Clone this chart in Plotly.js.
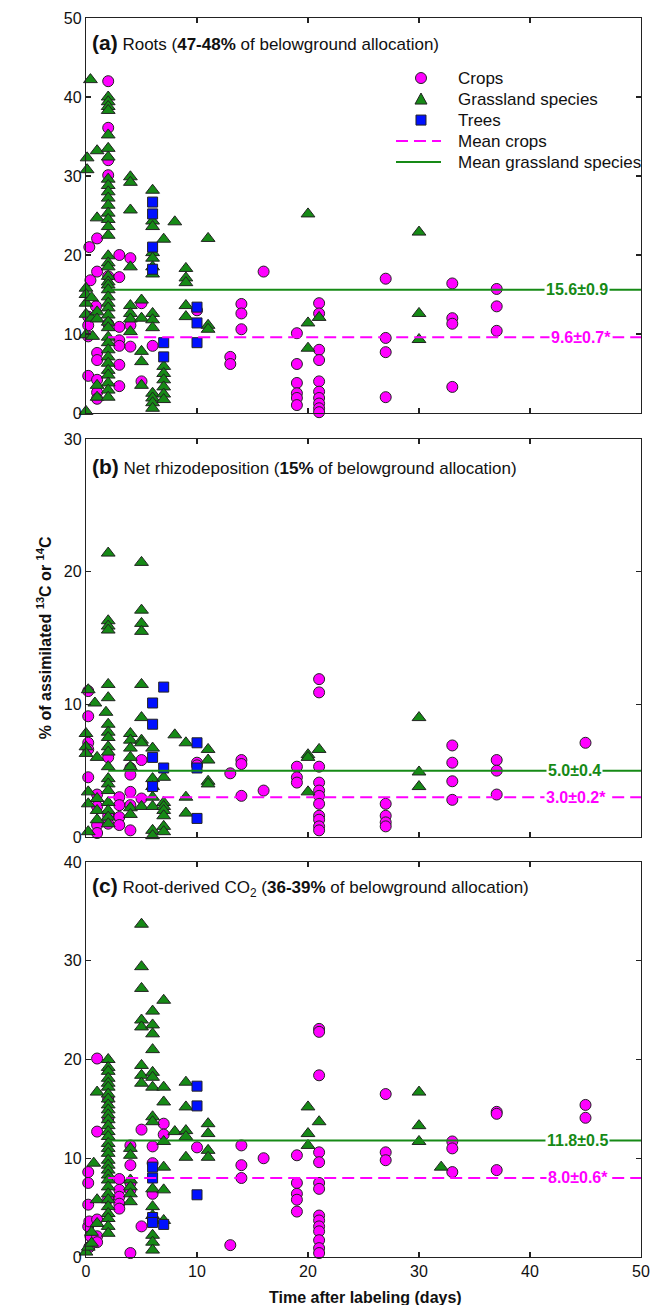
<!DOCTYPE html>
<html><head><meta charset="utf-8">
<script src="https://cdn.plot.ly/plotly-3.0.1.min.js"></script>
<style>html,body{margin:0;padding:0;background:#fff;} #chart{width:651px;height:1305px;}</style>
</head><body><div id="chart"></div>
<script>
// ---------- DATA (day, % of assimilated C) ----------
const xTicks = [0, 10, 20, 30, 40, 50];
const meanLineDays = [2, 50];

// Panel (a) Roots
const rootsCrops = [[0.3,21.0],[1,22.1],[0.4,16.8],[1,17.9],[0.9,13.5],[0.2,12.2],[0.2,11.1],[0.2,9.7],[1,7.6],[1,6.7],[0.2,4.7],[1,4.2],[1,2.6],[1,1.8],
 [2,42.0],[2,36.1],[2,32.0],[2,30.1],[2,17.3],[2,11.3],
 [3,20.0],[3,17.2],[3,10.9],[3,9.2],[3,8.5],[3,6.1],[3,3.4],
 [4,19.6],[4,11.1],[4,8.4],[5,13.9],[5,4.0],[6,8.5],[10,13.0],
 [13,7.1],[13,6.2],[14,13.8],[14,12.6],[14,10.6],[16,17.9],
 [19,10.1],[19,6.2],[19,3.8],[19,2.5],[19,1.9],[19,1.0],
 [21,13.9],[21,12.6],[21,8.0],[21,6.7],[21,4.0],[21,2.7],[21,1.9],[21,1.2],[21,0.6],[21,0.1],
 [27,17.0],[27,9.5],[27,7.7],[27,2.0],[33,16.4],[33,12.0],[33,11.3],[33,3.3],[37,15.7],[37,13.5],[37,10.4]];
const rootsGrass = [[0.4,42.2],[0.1,32.3],[0.1,30.8],[1,33.2],[1,24.7],
 [0,15.8],[0,15.0],[0,13.9],[0.5,14.6],[0,12.5],[0.5,12.0],[1,12.8],[1,11.9],[0,9.9],[0.6,9.7],[1,3.5],[1,2.0],[0,0.2],
 [2,40.0],[2,39.4],[2,38.8],[2,38.3],[2,35.2],[2,33.5],[2,32.4],[2,29.6],[2,28.8],[2,28.0],[2,27.2],[2,26.3],[2,25.3],[2,24.5],[2,23.6],[2,22.5],
 [2,19.9],[2,19.0],[2,18.5],[2,17.3],[2,16.6],[2,16.2],[2,15.6],[2,14.7],[2,13.9],[2,13.3],[2,12.4],[2,11.5],[2,10.8],[2,9.6],[2,8.9],[2,8.0],[2,7.1],[2,6.3],[2,5.4],[2,4.8],[2,3.8],[2,2.9],[2,2.0],
 [4,29.9],[4,29.2],[4,25.7],[4,18.5],[4,13.6],[4,12.6],[4,11.9],[4,10.3],
 [5,14.3],[5,12.0],[5,7.8],[5,6.5],[5,3.5],
 [6,28.2],[6,24.3],[6,23.6],[6,20.3],[6,19.6],[6,18.5],[6,17.6],[6,12.6],[6,11.8],[6,10.8],[6,2.5],[6,1.9],[6,1.3],[6,0.6],
 [7,22.0],[7,5.9],[7,5.0],[7,4.2],[7,3.3],[7,2.4],[7,1.7],[8,24.2],
 [9,18.3],[9,17.1],[9,16.5],[9,13.6],[9,12.2],[11,22.1],[11,11.1],[11,10.6],
 [20,25.2],[20,11.4],[20,8.2],[21,12.1],[30,22.9],[30,12.6],[30,9.3]];
const rootsTrees = [[6,26.7],[6,25.2],[6,21.0],[6,18.2],[7,8.9],[7,7.1],[10,13.4],[10,11.4],[10,8.9]];
const rootsMeans = [9.6, 15.6];          // crops, grassland
const rootsMeanLabels = ['9.6±0.7*', '15.6±0.9'];

// Panel (b) Net rhizodeposition
const rhizoCrops = [[0.2,11.0],[0.2,9.1],[0.2,7.1],[0.2,6.6],[0.2,4.5],[1,3.2],[1,2.3],[1,0.9],[1,0.3],[2,6.0],[2,1.6],[2,1.0],
 [3,3.0],[3,2.4],[3,1.5],[3,0.9],[4,5.2],[4,4.7],[4,3.4],[4,2.4],[4,0.5],[5,5.8],[5,2.9],
 [10,5.6],[10,5.4],[13,4.8],[14,5.8],[14,5.5],[14,3.1],[16,3.5],[19,5.3],[19,4.5],[19,4.1],
 [21,11.9],[21,10.9],[21,5.3],[21,4.1],[21,3.5],[21,3.1],[21,2.5],[21,1.6],[21,1.3],[21,0.8],[21,0.5],
 [27,2.5],[27,1.6],[27,1.1],[27,0.8],[33,6.9],[33,5.6],[33,4.2],[33,2.8],[37,5.8],[37,5.0],[37,3.2],[45,7.1]];
const rhizoGrass = [[0.2,11.1],[0.8,10.1],[0,7.8],[0,6.8],[0,6.3],[0.2,3.4],[0.2,2.5],[0.2,0.4],[1,2.9],[1,2.0],[1,1.3],[1,6.0],
 [2,21.4],[2,16.3],[2,15.9],[2,15.6],[2,11.5],[2,10.5],[1.8,9.4],[2,8.5],[2,7.9],[2,7.5],[2,6.8],[2,6.4],[2,5.3],[2,4.4],[2,4.0],[2,3.5],[2,2.6],[2,2.0],[2,1.5],[2,1.0],
 [4,7.8],[4,7.3],[4,6.7],[4,6.0],[4,5.3],[4,2.2],[4,1.7],
 [5,20.7],[5,17.1],[5,16.1],[5,15.5],[5,11.5],[5,9.0],[5,7.3],[5,7.1],[5,2.3],
 [6,6.7],[6,4.4],[6,3.8],[6,3.0],[6,2.3],[6,0.5],[6,0.1],
 [7,4.5],[7,2.6],[7,2.3],[7,2.0],[7,1.6],[7,0.8],[7,0.4],
 [8,7.7],[9,7.1],[9,3.0],[9,1.8],[11,6.6],[11,5.8],[11,4.2],[11,4.0],
 [20,6.2],[20,6.0],[20,3.4],[21,6.6],[30,9.0],[30,4.9],[30,3.8]];
const rhizoTrees = [[7,11.3],[6,10.1],[6,8.5],[6,6.0],[6,3.8],[7,5.2],[10,7.1],[10,5.2],[10,1.4]];
const rhizoMeans = [3.0, 5.0];
const rhizoMeanLabels = ['3.0±0.2*', '5.0±0.4'];

// Panel (c) Root-derived CO2
const co2Crops = [[0.2,8.6],[0.2,7.5],[0.2,5.3],[0.2,3.1],[0.3,3.6],[0.4,2.1],[0.3,1.0],[1,20.1],[1,12.7],[1,3.8],[1,2.1],[1,1.5],
 [2,16.0],[2,14.0],[2,5.9],[3,7.9],[3,6.8],[3,6.1],[3,5.4],[3,4.9],
 [4,11.3],[4,9.3],[4,7.5],[4,6.8],[4,0.4],[5,12.9],[5,3.1],[6,11.2],[6,9.5],[6,6.4],[7,13.5],[7,12.4],
 [10,11.1],[13,1.2],[14,11.3],[14,9.3],[14,8.0],[16,10.0],
 [19,10.3],[19,7.5],[19,6.4],[19,5.8],[19,4.6],
 [21,23.1],[21,22.8],[21,18.4],[21,10.6],[21,9.6],[21,7.5],[21,6.9],[21,4.2],[21,3.7],[21,3.1],[21,2.6],[21,1.7],[21,0.9],[21,0.4],
 [27,16.5],[27,10.6],[27,9.8],[33,11.7],[33,11.0],[33,8.6],[37,14.7],[37,14.5],[37,8.8],[45,15.4],[45,14.1]];
const co2Grass = [[0,0.5],[0.2,1.0],[0.5,1.4],[1,3.4],[1,5.8],[0.7,9.5],[1,16.7],[0.5,2.5],
 [2,20.0],[2,19.2],[2,18.8],[2,18.1],[2,17.6],[2,17.2],[2,16.5],[2,16.0],[2,15.4],[2,14.9],[2,14.4],[2,13.9],[2,13.3],[2,12.7],[2,12.2],[2,11.5],[2,11.0],[2,10.5],[2,9.8],[2,9.3],[2,8.8],[2,8.3],[2,7.8],[2,7.1],[2,6.4],[2,5.8],[2,5.1],[2,4.4],[2,3.9],[2,3.1],[2,2.4],
 [4,11.0],[4,10.3],[4,7.8],[4,7.1],[4,6.4],[4,5.6],
 [5,33.7],[5,29.4],[5,27.2],[5,24.0],[5,23.3],[5,19.4],[5,18.4],[5,17.6],
 [6,24.9],[6,23.5],[6,22.6],[6,21.0],[6,18.7],[6,18.2],[6,17.2],[6,14.2],[6,13.7],[6,6.9],[6,5.1],[6,4.2],[6,2.2],[6,1.5],[6,0.7],
 [7,26.0],[7,17.2],[7,15.7],[7,11.7],[7,9.1],[7,6.8],[7,3.7],[8,12.7],
 [9,17.7],[9,15.2],[9,12.8],[9,12.2],[9,10.1],[11,13.5],[11,12.5],[11,10.8],[11,10.1],
 [20,15.2],[20,12.5],[20,11.3],[21,13.7],[30,16.7],[30,13.3],[30,11.7],[32,9.1]];
const co2Trees = [[6,9.1],[6,8.0],[6,4.0],[6,3.5],[7,3.3],[10,17.3],[10,15.3],[10,6.3]];
const co2Means = [8.0, 11.8];
const co2MeanLabels = ['8.0±0.6*', '11.8±0.5'];

const seriesNames = ['Crops', 'Grassland species', 'Trees', 'Mean crops', 'Mean grassland species'];
const panelTitles = [
  '<b style="font-size:21px">(a)</b> Roots (<b>47-48%</b> of belowground allocation)',
  '<b style="font-size:21px">(b)</b> Net rhizodeposition (<b>15%</b> of belowground allocation)',
  '<b style="font-size:21px">(c)</b> Root-derived CO<sub>2</sub> (<b>36-39%</b> of belowground allocation)'
];
const yRanges = [[0, 50], [0, 30], [0, 40]];
const yTicks = [[0,10,20,30,40,50],[0,10,20,30],[0,10,20,30,40]];

// ---------- STYLE ----------
const MAG = '#ff00ff', GRN = '#168a16', BLU = '#0010ff', TXTGRN = '#168a16';
const FONT = 'Liberation Sans, Arial, sans-serif';
const panels = [
  {crops: rootsCrops, grass: rootsGrass, trees: rootsTrees, means: rootsMeans, labels: rootsMeanLabels},
  {crops: rhizoCrops, grass: rhizoGrass, trees: rhizoTrees, means: rhizoMeans, labels: rhizoMeanLabels},
  {crops: co2Crops, grass: co2Grass, trees: co2Trees, means: co2Means, labels: co2MeanLabels}
];
const yDomains = [[0.6812, 1], [0.3390, 0.6602], [0, 0.3188]];
const labelX = [[44.6, 44.2], [44.1, 44.0], [44.3, 44.3]];

const traces = [];
const annotations = [];
const shapes = [];
panels.forEach((p, i) => {
  const xa = i === 0 ? 'x' : 'x' + (i + 1);
  const ya = i === 0 ? 'y' : 'y' + (i + 1);
  const pt = (arr, k) => arr.map(d => d[k]);
  traces.push({type: 'scatter', mode: 'markers', name: seriesNames[0],
    x: pt(p.crops, 0), y: pt(p.crops, 1), xaxis: xa, yaxis: ya, cliponaxis: false,
    marker: {symbol: 'circle', size: 11, color: MAG, line: {color: '#222', width: 1}}});
  traces.push({type: 'scatter', mode: 'markers', name: seriesNames[1],
    x: pt(p.grass, 0), y: pt(p.grass, 1), xaxis: xa, yaxis: ya, cliponaxis: false,
    marker: {symbol: 'triangle-up', size: 12, color: GRN, line: {color: '#222', width: 1}}});
  traces.push({type: 'scatter', mode: 'markers', name: seriesNames[2],
    x: pt(p.trees, 0), y: pt(p.trees, 1), xaxis: xa, yaxis: ya, cliponaxis: false,
    marker: {symbol: 'square', size: 10, color: BLU, line: {color: '#222', width: 1}}});
  traces.push({type: 'scatter', mode: 'lines', name: seriesNames[3],
    x: meanLineDays, y: meanLineDays.map(() => p.means[0]), xaxis: xa, yaxis: ya,
    line: {color: MAG, width: 2, dash: '12px,6px'}});
  traces.push({type: 'scatter', mode: 'lines', name: seriesNames[4],
    x: meanLineDays, y: meanLineDays.map(() => p.means[1]), xaxis: xa, yaxis: ya,
    line: {color: GRN, width: 2}});
  annotations.push({xref: xa, yref: ya, x: labelX[i][0], y: p.means[0], text: '<b>' + p.labels[0] + '</b>',
    showarrow: false, bgcolor: '#fff', borderpad: 1, font: {family: FONT, size: 16, color: MAG}});
  annotations.push({xref: xa, yref: ya, x: labelX[i][1], y: p.means[1], text: '<b>' + p.labels[1] + '</b>',
    showarrow: false, bgcolor: '#fff', borderpad: 1, font: {family: FONT, size: 16, color: TXTGRN}});
  annotations.push({xref: xa + ' domain', yref: ya + ' domain', x: 0.007, y: i === 1 ? 0.93 : 0.937,
    xanchor: 'left', yanchor: 'middle', text: panelTitles[i], showarrow: false,
    font: {family: FONT, size: 17, color: '#111'}});
});

// ---------- custom legend inside panel (a) ----------
const LEG_TOP = 0.848, LEG_STEP = 0.0532, LEG_SYM_X = 0.6036, LEG_TXT_X = 0.6667;
seriesNames.forEach((name, k) => {
  const yy = LEG_TOP - k * LEG_STEP;
  annotations.push({xref: 'x domain', yref: 'y domain', x: LEG_TXT_X, y: yy, xanchor: 'left', yanchor: 'middle',
    text: name, showarrow: false, font: {family: FONT, size: 17, color: '#111'}});
  const base = {xref: 'x domain', yref: 'y domain', xsizemode: 'pixel', ysizemode: 'pixel',
    xanchor: LEG_SYM_X, yanchor: yy};
  if (k === 0) shapes.push(Object.assign({}, base, {type: 'circle', x0: -5.5, x1: 5.5, y0: -5.5, y1: 5.5,
    fillcolor: MAG, line: {color: '#222', width: 1}}));
  if (k === 1) shapes.push(Object.assign({}, base, {type: 'path', path: 'M-6,-5L6,-5L0,6Z',
    fillcolor: GRN, line: {color: '#222', width: 1}}));
  if (k === 2) shapes.push(Object.assign({}, base, {type: 'rect', x0: -5, x1: 5, y0: -5, y1: 5,
    fillcolor: BLU, line: {color: '#222', width: 1}}));
  if (k === 3) shapes.push(Object.assign({}, base, {type: 'line', x0: -25, x1: 20, y0: 0, y1: 0,
    line: {color: MAG, width: 2, dash: '12px,6px'}}));
  if (k === 4) shapes.push(Object.assign({}, base, {type: 'line', x0: -25, x1: 20, y0: 0, y1: 0,
    line: {color: GRN, width: 2}}));
});

annotations.push({xref: 'paper', yref: 'paper', x: -0.097, y: 0.4996, textangle: -90,
  text: '<b>% of assimilated <sup>13</sup>C or <sup>14</sup>C</b>', showarrow: false,
  font: {family: FONT, size: 16, color: '#111'}});
annotations.push({xref: 'paper', yref: 'paper', x: 0.503, y: -0.0323, yanchor: 'middle',
  text: '<b>Time after labeling (days)</b>', showarrow: false,
  font: {family: FONT, size: 16, color: '#111'}});

const axisBase = {showline: true, linecolor: '#222', linewidth: 1.2, mirror: 'ticks', ticks: 'inside',
  ticklen: 5, tickwidth: 1.2, tickcolor: '#222', showgrid: false, zeroline: false,
  tickfont: {family: FONT, size: 16, color: '#111'}};

const layout = {
  width: 651, height: 1305,
  margin: {l: 86, r: 10, t: 18, b: 48, autoexpand: false},
  paper_bgcolor: '#fff', plot_bgcolor: '#fff',
  showlegend: false,
  annotations: annotations,
  shapes: shapes,
  font: {family: FONT}
};
['', '2', '3'].forEach((s, i) => {
  layout['xaxis' + s] = Object.assign({}, axisBase, {domain: [0, 1], range: [0, 50], anchor: 'y' + s,
    tickvals: xTicks, showticklabels: i === 2});
  layout['yaxis' + s] = Object.assign({}, axisBase, {domain: yDomains[i], range: yRanges[i], anchor: 'x' + s,
    tickvals: yTicks[i]});
});

Plotly.newPlot('chart', traces, layout, {staticPlot: true, displayModeBar: false});
</script>
</body></html>
